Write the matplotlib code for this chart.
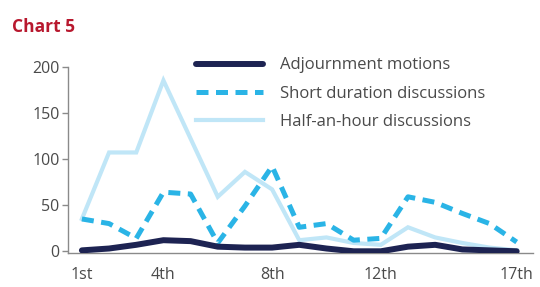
import matplotlib
matplotlib.use("Agg")
import matplotlib.pyplot as plt

plt.rcParams['font.family'] = ['Open Sans', 'DejaVu Sans']

sessions = list(range(1, 18))
tick_pos = [1, 4, 8, 12, 17]
tick_labels = ["1st", "4th", "8th", "12th", "17th"]

adjournment = [1, 3, 7, 12, 11, 5, 4, 4, 7, 3, 0, 0, 5, 7, 2, 1, 0]
short_duration = [35, 30, 14, 64, 62, 9, 49, 92, 26, 30, 12, 14, 59, 53, 41, 30, 10]
half_hour = [35, 107, 107, 185, 122, 59, 86, 67, 12, 15, 9, 7, 26, 15, 9, 4, 1]

NAVY = "#1d2352"
BLUE = "#2ab4e6"
PALE = "#c0e6f7"
GREY = "#8a8a8a"

fig = plt.figure(figsize=(5.4, 2.87), dpi=100)
ax = fig.add_axes([0.126, 0.118, 0.861, 0.65])

ax.plot(sessions, half_hour, color=PALE, lw=3.0, label="Half-an-hour discussions",
        solid_joinstyle="miter", zorder=2)
ax.plot(sessions, short_duration, color=BLUE, lw=3.6, ls=(0, (2.4, 1.5)),
        label="Short duration discussions", dash_capstyle="butt", zorder=3)
ax.plot(sessions, adjournment, color=NAVY, lw=4.3, label="Adjournment motions",
        solid_capstyle="round", zorder=4)

ax.set_xlim(0.49, 17.6)
ax.set_ylim(-2, 200)
ax.set_yticks([0, 50, 100, 150, 200])
ax.set_xticks(tick_pos)
ax.set_xticklabels(tick_labels)

for s in ["top", "right"]:
    ax.spines[s].set_visible(False)
for s in ["left", "bottom"]:
    ax.spines[s].set_color(GREY)
    ax.spines[s].set_linewidth(1.0)
ax.spines["left"].set_bounds(-2, 200)

ax.tick_params(axis="y", length=4, width=1, color=GREY, labelsize=11.5,
               labelcolor="#4a4a4a", pad=2)
ax.tick_params(axis="x", length=0, labelsize=11.5, labelcolor="#4a4a4a", pad=10)

handles, labels = ax.get_legend_handles_labels()
order = [2, 1, 0]
ax.legend([handles[i] for i in order], [labels[i] for i in order],
          loc="upper left", bbox_to_anchor=(0.336, 0.852), bbox_transform=fig.transFigure,
          frameon=False, fontsize=12, handlelength=4.0, handletextpad=1.0,
          labelspacing=0.74, labelcolor="#4a4a4a")

fig.text(0.022, 0.89, "Chart 5", color="#b8182e", fontsize=12.5, fontweight="bold")

fig.savefig("out.png", dpi=100, facecolor="white")
